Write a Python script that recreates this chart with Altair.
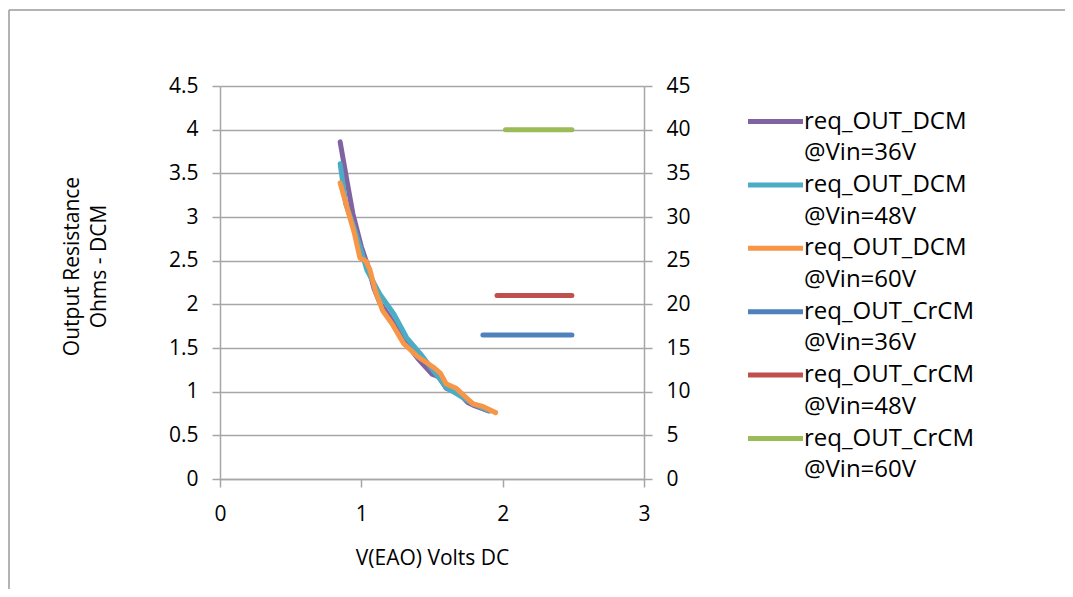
import altair as alt
import pandas as pd

FONT = "Open Sans"
GRID = "#a6a6a6"

# ---- data ----
series_names = [
    "req_OUT_DCM @Vin=36V",
    "req_OUT_DCM @Vin=48V",
    "req_OUT_DCM @Vin=60V",
    "req_OUT_CrCM @Vin=36V",
    "req_OUT_CrCM @Vin=48V",
    "req_OUT_CrCM @Vin=60V",
]
series_colors = ["#8064A2", "#4BACC6", "#F79646", "#4F81BD", "#C0504D", "#9BBB59"]

# DCM curves, left axis (Ohms)
dcm36_x = [0.85, 0.90, 0.94, 1.00, 1.05, 1.09, 1.13, 1.20, 1.30, 1.40, 1.50, 1.55, 1.60, 1.70, 1.75, 1.80, 1.90]
dcm36_y = [3.86, 3.40, 3.04, 2.66, 2.42, 2.18, 2.02, 1.86, 1.59, 1.38, 1.20, 1.17, 1.04, 0.97, 0.88, 0.84, 0.78]

dcm48_x = [0.85, 0.89, 0.94, 0.99, 1.04, 1.13, 1.23, 1.32, 1.42, 1.51, 1.60, 1.69, 1.79, 1.91]
dcm48_y = [3.61, 3.15, 2.92, 2.66, 2.39, 2.12, 1.89, 1.62, 1.43, 1.24, 1.05, 0.96, 0.86, 0.78]

dcm60_x = [0.85, 0.90, 0.95, 0.99, 1.03, 1.06, 1.10, 1.15, 1.22, 1.30, 1.40, 1.51, 1.56, 1.60, 1.67, 1.73, 1.79, 1.86, 1.95]
dcm60_y = [3.39, 3.10, 2.82, 2.53, 2.50, 2.40, 2.15, 1.93, 1.77, 1.55, 1.40, 1.28, 1.21, 1.09, 1.04, 0.95, 0.86, 0.83, 0.76]

# CrCM levels, right axis
crcm_x_start = [1.86, 1.96, 2.02]
crcm_x_end = [2.49, 2.49, 2.49]
crcm_level = [16.5, 21.0, 40.0]

left_ticks = [0, 0.5, 1, 1.5, 2, 2.5, 3, 3.5, 4, 4.5]
right_ticks = [0, 5, 10, 15, 20, 25, 30, 35, 40, 45]
x_ticks = [0, 1, 2, 3]

# ---- tables ----
rows = []
for name, xs, ys in zip(series_names[:3], [dcm36_x, dcm48_x, dcm60_x], [dcm36_y, dcm48_y, dcm60_y]):
    for i, (xv, yv) in enumerate(zip(xs, ys)):
        rows.append({"series": name, "v": xv, "r": yv, "order": i})
dcm_df = pd.DataFrame(rows)

rows = []
for name, x0, x1, lv in zip(series_names[3:], crcm_x_start, crcm_x_end, crcm_level):
    rows.append({"series": name, "v": x0, "r2": lv, "order": 0})
    rows.append({"series": name, "v": x1, "r2": lv, "order": 1})
crcm_df = pd.DataFrame(rows)

color_scale = alt.Scale(domain=series_names, range=series_colors)

legend = alt.Legend(
    orient="none", legendX=539, legendY=19, title=None,
    symbolType="M-2,0H2", symbolSize=756.25, symbolStrokeWidth=5,
    labelFont=FONT, labelFontSize=24, labelColor="#000000", labelLimit=0,
    labelExpr="[split(datum.label, ' ')[0], split(datum.label, ' ')[1]]",
    labelBaseline="middle", rowPadding=2.4,
    labelOffset=12, padding=0, offset=0,
)

x_enc = alt.X(
    "v:Q",
    scale=alt.Scale(domain=[0, 3], nice=False, zero=False),
    axis=alt.Axis(
        values=x_ticks, format="~g", grid=False, title="V(EAO) Volts DC",
        titleX=212, titleY=85, titleBaseline="alphabetic", titleAlign="center",
        labelPadding=16, labelFlush=False,
    ),
)

dcm = alt.Chart(dcm_df).mark_line(strokeWidth=5, strokeCap="round", strokeJoin="round").encode(
    x=x_enc,
    y=alt.Y(
        "r:Q",
        scale=alt.Scale(domain=[0, 4.5], nice=False),
        axis=alt.Axis(
            values=left_ticks, format="~g", grid=True, orient="left",
            title=["Output Resistance", "Ohms - DCM"],
            titleX=-148, titleY=180, titleAngle=270, titleAlign="center",
            titleBaseline="middle", titleLineHeight=27, labelPadding=14,
        ),
    ),
    color=alt.Color("series:N", scale=color_scale, legend=legend),
    order="order:Q",
)

crcm = alt.Chart(crcm_df).mark_line(strokeWidth=5, strokeCap="round").encode(
    x=x_enc,
    y=alt.Y(
        "r2:Q",
        scale=alt.Scale(domain=[0, 45], nice=False),
        axis=alt.Axis(values=right_ticks, format="~g", grid=False, orient="right",
                      title=None, labelPadding=14),
    ),
    color=alt.Color("series:N", scale=color_scale, legend=legend),
    order="order:Q",
)

# outer chart-area frame (only left and top edges are visible in the reference)
frame_df = pd.DataFrame({"k": [0]})
frame_left = alt.Chart(frame_df).mark_rule(color="#9a9a9a", strokeWidth=1.5).encode(
    x=alt.value(-211), y=alt.value(-76), y2=alt.value(900)
)
frame_top = alt.Chart(frame_df).mark_rule(color="#9a9a9a", strokeWidth=1.5).encode(
    x=alt.value(-211), x2=alt.value(1500), y=alt.value(-76)
)

chart = (
    alt.layer(frame_left, frame_top, dcm, crcm)
    .resolve_scale(y="independent", color="shared")
    .properties(
        width=424, height=393,
        padding={"left": 212, "top": 78, "right": 421, "bottom": 110},
        autosize=alt.AutoSizeParams(type="none"),
        background="white",
    )
    .configure(style={"guide-label": {"lineHeight": 31.7}})
    .configure_view(stroke=None)
    .configure_axis(
        labelFont=FONT, labelFontSize=21, labelColor="#000000",
        titleFont=FONT, titleFontSize=21, titleFontWeight="normal", titleColor="#000000",
        domainColor=GRID, domainWidth=1.5, tickColor=GRID, tickWidth=1.5, tickSize=8,
        gridColor=GRID, gridWidth=1.5,
    )
)

chart.save("out.html", embed_options={"renderer": "svg", "actions": False})
